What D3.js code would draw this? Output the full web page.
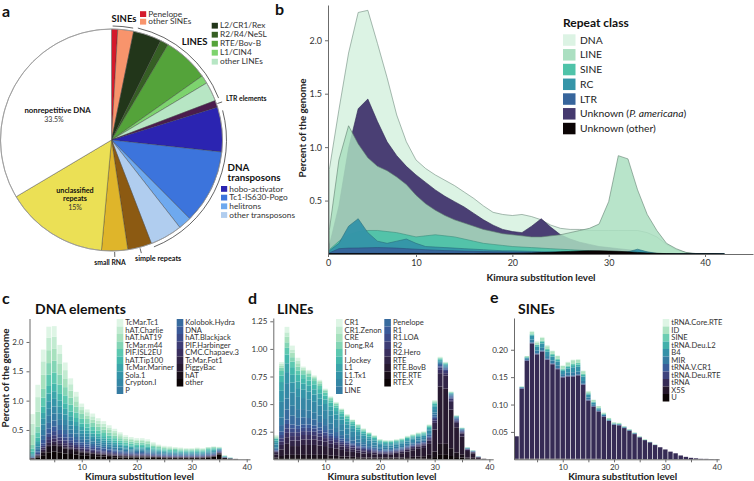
<!DOCTYPE html>
<html lang="en">
<head>
<meta charset="UTF-8">
<title>Repeat landscape of the genome</title>
<script src="https://d3js.org/d3.v7.min.js"></script>
<style>
  body { margin: 0; background: white; }
  svg { display: block; font-family: Lato, "Open Sans", sans-serif; }
  .axis path, .axis line { stroke: #6b6b6b; stroke-width: 1; }
  .axis text { fill: #333; font-size: 8px; font-family: Lato, sans-serif; }
  .bAxis text { font-size: 9px; }
  .panel-letter { font-size: 16px; font-weight: 700; fill: #111; }
  .panel-title { font-size: 14px; font-weight: 700; fill: #111; }
  .axis-title { font-size: 9.8px; font-weight: 700; fill: #222; }
  .leg text { font-size: 7.6px; fill: #333; }
  .pie-label { font-weight: 700; fill: #111; }
  .pie-leg { fill: #333; }
</style>
</head>
<body>
<svg id="fig" width="754" height="481"></svg>
<script>
// ---------------- panel a: genome composition (percent)
var pieNames = ["Penelope", "other SINEs", "L2/CR1/Rex", "R2/R4/NeSL", "RTE/Bov-B", "L1/CIN4",
  "other LINEs", "LTR elements", "hobo-activator", "Tc1-IS630-Pogo", "helitrons",
  "other transposons", "simple repeats", "small RNA", "unclassified repeats", "nonrepetitive DNA"];
var piePercent = [0.9, 2.3, 4.1, 1.2, 6.7, 1.2, 2.8, 1.0, 6.5, 10.8, 1.9, 4.7, 3.5, 3.8, 15, 33.5];

// ---------------- panel b: repeat landscape per class
var kimuraBins = [1,2,3,4,5,6,7,8,9,10,11,12,13,14,15,16,17,18,19,20,21,22,23,24,25,26,27,28,29,30,31,32,33,34,35,36,37,38,39,40,41,42];
var repeatClasses = ["DNA", "LINE", "SINE", "RC", "LTR", "Unknown (P. americana)", "Unknown (other)"];
var dnaLevel = [0.79,1.35,1.88,2.26,2.28,1.97,1.65,1.3,1.05,0.88,0.8,0.74,0.69,0.64,0.58,0.52,0.45,0.39,0.37,0.36,0.37,0.35,0.32,0.27,0.24,0.23,0.23,0.22,0.22,0.22,0.22,0.22,0.22,0.2,0.16,0.09,0.04,0.015,0.005,0.002,0,0];
var lineLevel = [0.22,0.88,1.2,1.03,0.9,0.82,0.78,0.72,0.65,0.55,0.47,0.41,0.36,0.32,0.29,0.26,0.23,0.21,0.19,0.18,0.17,0.16,0.16,0.17,0.18,0.2,0.22,0.24,0.28,0.49,0.92,0.89,0.6,0.37,0.22,0.1,0.05,0.015,0,0,0,0];
var sineLevel = [0.04,0.12,0.18,0.21,0.22,0.22,0.21,0.2,0.18,0.16,0.17,0.18,0.17,0.16,0.14,0.12,0.1,0.09,0.08,0.07,0.065,0.06,0.055,0.05,0.045,0.04,0.035,0.03,0.025,0.02,0.015,0.012,0.008,0.005,0.003,0.002,0.001,0,0,0,0,0];
var rcLevel = [0.03,0.1,0.26,0.33,0.2,0.12,0.1,0.12,0.14,0.1,0.07,0.065,0.06,0.055,0.05,0.045,0.04,0.035,0.03,0.03,0.028,0.025,0.022,0.02,0.02,0.018,0.016,0.015,0.013,0.012,0.012,0.02,0.045,0.02,0.005,0,0,0,0,0,0,0];
var ltrLevel = [0.01,0.05,0.055,0.056,0.058,0.06,0.058,0.055,0.05,0.045,0.04,0.036,0.032,0.03,0.027,0.025,0.023,0.021,0.02,0.019,0.018,0.017,0.016,0.015,0.014,0.013,0.012,0.011,0.01,0.009,0.008,0.007,0.006,0.004,0.002,0,0,0,0,0,0,0];
var unknownPamLevel = [0.08,0.45,0.99,1.36,1.45,1.24,1.05,0.92,0.82,0.74,0.67,0.6,0.54,0.49,0.44,0.38,0.32,0.27,0.23,0.21,0.2,0.26,0.33,0.25,0.18,0.14,0.11,0.09,0.07,0.06,0.05,0.04,0.03,0.02,0.01,0,0,0,0,0,0,0];
var unknownOtherLevel = [0.004,0.005,0.005,0.005,0.005,0.005,0.005,0.005,0.005,0.005,0.005,0.005,0.005,0.005,0.005,0.005,0.006,0.006,0.006,0.007,0.008,0.01,0.013,0.016,0.02,0.024,0.028,0.03,0.03,0.028,0.025,0.02,0.015,0.01,0.006,0.004,0.003,0.003,0.002,0.002,0.002,0];
var bTicksY = [0.5, 1, 1.5, 2];
var bTicksX = [0, 10, 20, 30, 40];

// ---------------- panel c: DNA element families (legend order, top of stack first)
var dnaFamilies = ["TcMar.Tc1","hAT.Charlie","hAT.hAT19","TcMar.m44","PIF.ISL2EU","hAT.Tip100","TcMar.Mariner","Sola.1","Crypton.I","P",
  "Kolobok.Hydra","DNA","hAT.Blackjack","PIF.Harbinger","CMC.Chapaev.3","TcMar.Fot1","PiggyBac","hAT","other"];
var dnaFamilyLevels = [
  [0.165,0.21,0.2,0.19,0.18,0.155,0.13,0.1,0.076,0.051,0.047,0.048,0.044,0.045,0.038,0.035,0.031,0.026,0.024,0.022,0.022,0.021,0.017,0.012,0.012,0.012,0.01,0.009,0.007,0.007,0.008,0.007,0.003,0.005,0.005,0.002,0.001,0],
  [0.18,0.25,0.23,0.21,0.2,0.17,0.14,0.11,0.085,0.06,0.055,0.053,0.048,0.048,0.042,0.038,0.034,0.029,0.027,0.025,0.025,0.024,0.019,0.014,0.013,0.013,0.012,0.011,0.008,0.008,0.01,0.008,0.004,0.005,0.005,0.002,0.001,0],
  [0.18,0.25,0.24,0.22,0.21,0.18,0.15,0.12,0.09,0.065,0.06,0.058,0.053,0.052,0.045,0.042,0.036,0.031,0.029,0.027,0.027,0.025,0.021,0.015,0.015,0.015,0.012,0.012,0.008,0.008,0.01,0.008,0.005,0.005,0.005,0.002,0.001,0],
  [0.06,0.1,0.15,0.2,0.2,0.17,0.14,0.12,0.1,0.085,0.076,0.069,0.062,0.057,0.051,0.045,0.04,0.036,0.033,0.031,0.031,0.029,0.025,0.022,0.02,0.019,0.018,0.018,0.017,0.017,0.018,0.017,0.019,0.017,0.006,0.004,0.002,0],
  [0.05,0.09,0.15,0.19,0.19,0.16,0.135,0.115,0.095,0.08,0.072,0.065,0.058,0.053,0.047,0.042,0.037,0.033,0.03,0.029,0.029,0.027,0.023,0.02,0.019,0.018,0.017,0.016,0.016,0.016,0.017,0.016,0.018,0.017,0.006,0.004,0.002,0],
  [0.03,0.06,0.11,0.13,0.13,0.11,0.095,0.08,0.068,0.058,0.052,0.047,0.042,0.038,0.034,0.03,0.027,0.024,0.022,0.021,0.021,0.02,0.017,0.015,0.014,0.013,0.013,0.012,0.012,0.012,0.013,0.012,0.015,0.015,0.005,0.003,0.001,0],
  [0.02,0.05,0.1,0.13,0.13,0.11,0.095,0.08,0.068,0.058,0.052,0.047,0.042,0.038,0.034,0.03,0.027,0.024,0.022,0.021,0.021,0.02,0.017,0.015,0.014,0.013,0.013,0.012,0.012,0.012,0.013,0.012,0.015,0.015,0.005,0.003,0.001,0],
  [0.02,0.04,0.1,0.13,0.13,0.11,0.095,0.08,0.068,0.058,0.052,0.047,0.042,0.038,0.034,0.03,0.027,0.024,0.022,0.021,0.021,0.02,0.017,0.015,0.014,0.013,0.013,0.012,0.012,0.012,0.013,0.012,0.015,0.015,0.005,0.003,0.001,0],
  [0.01,0.03,0.09,0.12,0.12,0.1,0.085,0.07,0.06,0.052,0.046,0.042,0.037,0.034,0.031,0.028,0.025,0.022,0.02,0.019,0.019,0.018,0.016,0.014,0.013,0.012,0.012,0.011,0.011,0.011,0.011,0.011,0.012,0.012,0.01,0.003,0.001,0],
  [0.01,0.03,0.09,0.12,0.12,0.1,0.085,0.07,0.06,0.052,0.046,0.042,0.037,0.034,0.031,0.028,0.025,0.022,0.02,0.019,0.019,0.018,0.016,0.014,0.013,0.012,0.012,0.011,0.011,0.011,0.011,0.011,0.012,0.012,0.01,0.003,0.001,0],
  [0.01,0.03,0.08,0.1,0.1,0.085,0.07,0.06,0.05,0.045,0.04,0.036,0.032,0.03,0.027,0.024,0.021,0.019,0.018,0.017,0.017,0.016,0.014,0.012,0.011,0.011,0.01,0.01,0.01,0.01,0.01,0.01,0.011,0.011,0.01,0.002,0.001,0],
  [0.005,0.02,0.06,0.08,0.08,0.07,0.06,0.05,0.045,0.04,0.035,0.032,0.029,0.026,0.024,0.021,0.019,0.017,0.016,0.015,0.015,0.014,0.012,0.011,0.01,0.01,0.009,0.009,0.009,0.009,0.009,0.009,0.01,0.01,0.01,0.002,0.001,0],
  [0.005,0.02,0.04,0.06,0.07,0.06,0.05,0.045,0.04,0.034,0.03,0.027,0.024,0.022,0.02,0.018,0.016,0.014,0.013,0.012,0.012,0.011,0.01,0.009,0.008,0.008,0.008,0.007,0.007,0.007,0.007,0.007,0.008,0.008,0.008,0.002,0.001,0],
  [0.005,0.01,0.03,0.05,0.06,0.05,0.045,0.04,0.035,0.03,0.027,0.024,0.022,0.02,0.018,0.016,0.014,0.013,0.012,0.011,0.011,0.01,0.009,0.008,0.007,0.007,0.007,0.006,0.006,0.006,0.006,0.006,0.007,0.007,0.007,0.002,0.001,0],
  [0,0.01,0.03,0.05,0.05,0.045,0.04,0.035,0.03,0.026,0.023,0.02,0.018,0.017,0.015,0.014,0.012,0.011,0.01,0.01,0.01,0.009,0.008,0.007,0.007,0.006,0.006,0.006,0.006,0.006,0.006,0.006,0.007,0.007,0.007,0.002,0.001,0],
  [0,0.01,0.03,0.04,0.04,0.035,0.03,0.025,0.022,0.02,0.018,0.016,0.014,0.013,0.012,0.011,0.01,0.009,0.008,0.008,0.008,0.007,0.006,0.006,0.005,0.005,0.005,0.005,0.005,0.005,0.005,0.005,0.006,0.006,0.006,0.002,0.001,0],
  [0,0.01,0.02,0.03,0.03,0.03,0.025,0.02,0.018,0.016,0.014,0.012,0.011,0.01,0.009,0.008,0.007,0.006,0.006,0.005,0.005,0.005,0.004,0.004,0.004,0.003,0.003,0.003,0.003,0.003,0.003,0.003,0.003,0.003,0.003,0.001,0,0],
  [0.01,0.02,0.05,0.09,0.1,0.09,0.08,0.07,0.06,0.05,0.045,0.04,0.035,0.03,0.028,0.025,0.022,0.02,0.018,0.017,0.017,0.016,0.014,0.012,0.011,0.01,0.01,0.01,0.01,0.01,0.01,0.01,0.01,0.01,0.02,0.005,0.003,0.002],
  [0.01,0.03,0.07,0.12,0.13,0.12,0.1,0.09,0.08,0.07,0.06,0.055,0.05,0.045,0.04,0.035,0.03,0.03,0.03,0.03,0.03,0.03,0.025,0.025,0.02,0.02,0.02,0.02,0.02,0.02,0.02,0.02,0.03,0.04,0.08,0.02,0.01,0.005]
];

// ---------------- panel d: LINE families
var lineFamilies = ["CR1","CR1.Zenon","CRE","Dong.R4","I","I.Jockey","L1","L1.Tx1","L2","LINE",
  "Penelope","R1","R1.LOA","R2","R2.Hero","RTE","RTE.BovB","RTE.RTE","RTE.X"];
var lineFamilyLevels = [
  [0.007,0.015,0.05,0.035,0.025,0.013,0.011,0.008,0.01,0.005,0.005,0.005,0.003,0.004,0.002,0.003,0.003,0.002,0.002,0.002,0.002,0.002,0.002,0.002,0.003,0.003,0.003,0.003,0.003,0.005,0.004,0.003,0.002,0.002,0.001,0.001],
  [0.008,0.015,0.04,0.03,0.025,0.012,0.011,0.008,0.01,0.005,0.005,0.005,0.003,0.004,0.002,0.004,0.003,0.003,0.003,0.002,0.002,0.002,0.002,0.002,0.003,0.003,0.003,0.003,0.003,0.005,0.004,0.003,0.002,0.002,0.001,0.001],
  [0.01,0.02,0.05,0.04,0.03,0.015,0.013,0.009,0.012,0.006,0.006,0.006,0.004,0.005,0.003,0.004,0.004,0.003,0.003,0.002,0.002,0.002,0.002,0.002,0.003,0.003,0.003,0.003,0.003,0.005,0.004,0.003,0.002,0.002,0.001,0.001],
  [0.005,0.03,0.05,0.04,0.035,0.03,0.028,0.026,0.024,0.021,0.019,0.017,0.015,0.013,0.012,0.01,0.009,0.008,0.007,0.006,0.005,0.005,0.005,0.005,0.005,0.005,0.005,0.005,0.006,0.008,0.005,0.004,0.003,0.002,0.001,0.001,0.001],
  [0.005,0.04,0.06,0.05,0.04,0.035,0.033,0.03,0.028,0.025,0.022,0.02,0.018,0.016,0.014,0.012,0.01,0.009,0.008,0.007,0.006,0.006,0.006,0.006,0.006,0.006,0.006,0.006,0.007,0.01,0.006,0.005,0.003,0.002,0.002,0.001,0.001],
  [0.015,0.06,0.08,0.07,0.06,0.05,0.048,0.045,0.042,0.037,0.033,0.03,0.027,0.024,0.021,0.018,0.016,0.014,0.012,0.009,0.009,0.009,0.009,0.009,0.009,0.009,0.009,0.009,0.01,0.014,0.006,0.005,0.003,0.002,0.002,0.001,0.001],
  [0.015,0.08,0.08,0.07,0.06,0.055,0.052,0.048,0.045,0.04,0.036,0.033,0.03,0.027,0.024,0.021,0.018,0.015,0.013,0.01,0.01,0.01,0.01,0.01,0.01,0.01,0.01,0.01,0.011,0.015,0.008,0.006,0.004,0.003,0.002,0.001,0.001],
  [0.02,0.1,0.1,0.09,0.08,0.075,0.07,0.065,0.062,0.056,0.05,0.046,0.041,0.037,0.033,0.029,0.025,0.021,0.018,0.015,0.014,0.013,0.013,0.013,0.013,0.013,0.013,0.013,0.014,0.02,0.008,0.006,0.004,0.003,0.002,0.002,0.001,0.001],
  [0.03,0.14,0.14,0.12,0.11,0.1,0.1,0.095,0.09,0.08,0.072,0.066,0.06,0.053,0.047,0.041,0.036,0.031,0.027,0.02,0.019,0.019,0.019,0.02,0.02,0.02,0.02,0.02,0.022,0.03,0.01,0.008,0.005,0.004,0.003,0.002,0.001,0.001],
  [0.01,0.07,0.1,0.09,0.08,0.075,0.07,0.065,0.06,0.055,0.05,0.045,0.04,0.035,0.031,0.027,0.023,0.02,0.017,0.015,0.014,0.013,0.013,0.013,0.013,0.013,0.013,0.013,0.015,0.02,0.01,0.008,0.008,0.006,0.005,0.002,0.002,0.001],
  [0.01,0.06,0.09,0.08,0.07,0.065,0.06,0.055,0.05,0.045,0.04,0.036,0.032,0.028,0.025,0.022,0.019,0.016,0.014,0.012,0.011,0.011,0.011,0.011,0.012,0.012,0.012,0.012,0.014,0.02,0.01,0.008,0.008,0.006,0.005,0.002,0.002,0.001],
  [0.005,0.03,0.04,0.035,0.03,0.03,0.03,0.028,0.026,0.023,0.02,0.018,0.016,0.014,0.012,0.011,0.01,0.009,0.008,0.007,0.006,0.006,0.006,0.006,0.006,0.006,0.006,0.006,0.008,0.01,0.012,0.012,0.01,0.008,0.006,0.002,0.002],
  [0.005,0.03,0.04,0.035,0.03,0.03,0.03,0.028,0.026,0.023,0.02,0.018,0.016,0.014,0.012,0.011,0.01,0.009,0.008,0.007,0.006,0.006,0.006,0.006,0.006,0.006,0.006,0.006,0.008,0.01,0.012,0.012,0.01,0.008,0.006,0.002,0.002],
  [0.005,0.03,0.04,0.035,0.035,0.035,0.034,0.032,0.03,0.027,0.024,0.021,0.019,0.017,0.015,0.013,0.011,0.01,0.009,0.008,0.007,0.007,0.007,0.007,0.008,0.008,0.008,0.008,0.01,0.015,0.02,0.02,0.015,0.01,0.007,0.003,0.002,0.001],
  [0.005,0.03,0.04,0.04,0.04,0.04,0.04,0.038,0.035,0.03,0.027,0.024,0.021,0.018,0.016,0.014,0.012,0.01,0.009,0.008,0.008,0.008,0.008,0.008,0.009,0.01,0.01,0.01,0.012,0.02,0.03,0.02,0.015,0.01,0.008,0.003,0.002,0.001],
  [0.02,0.04,0.06,0.05,0.05,0.05,0.05,0.05,0.045,0.042,0.038,0.034,0.03,0.027,0.024,0.021,0.019,0.017,0.015,0.014,0.013,0.013,0.014,0.015,0.017,0.019,0.021,0.023,0.03,0.06,0.12,0.12,0.07,0.04,0.03,0.01,0.008,0.003],
  [0.03,0.06,0.1,0.08,0.08,0.09,0.09,0.09,0.085,0.08,0.07,0.065,0.058,0.05,0.045,0.04,0.035,0.032,0.03,0.024,0.024,0.026,0.032,0.038,0.05,0.06,0.07,0.075,0.1,0.2,0.52,0.5,0.35,0.23,0.16,0.06,0.04,0.012,0.001],
  [0.01,0.02,0.03,0.03,0.03,0.03,0.03,0.03,0.03,0.03,0.025,0.023,0.02,0.018,0.016,0.014,0.012,0.011,0.01,0.01,0.01,0.01,0.011,0.012,0.014,0.016,0.018,0.02,0.03,0.05,0.1,0.1,0.07,0.04,0.03,0.01,0.01,0.003,0.003],
  [0.005,0.01,0.01,0.01,0.01,0.01,0.01,0.01,0.01,0.01,0.008,0.008,0.007,0.006,0.006,0.005,0.005,0.005,0.005,0.005,0.005,0.005,0.005,0.005,0.006,0.006,0.007,0.008,0.01,0.02,0.04,0.04,0.03,0.02,0.015,0.005,0.004,0.001,0.001]
];

// ---------------- panel e: SINE families
var sineFamilies = ["tRNA.Core.RTE","ID","SINE","tRNA.Deu.L2","B4","MIR","tRNA.V.CR1","tRNA.Deu.RTE","tRNA","X5S","U"];
var sineFamilyLevels = [
  [0,0,0,0.002,0.002,0.002,0.002,0.001,0.001,0.001,0.001,0.001,0.001,0.001,0.001,0.0005],
  [0,0.001,0.002,0.004,0.004,0.005,0.005,0.005,0.005,0.005,0.006,0.006,0.006,0.005,0.003,0.003,0.003,0.002,0.002,0.002,0.002,0.001,0.001,0.001,0.001,0.001,0.0005,0.0005],
  [0,0,0,0.001,0.001,0.002,0.002,0.002,0.002,0.002,0.002,0.003,0.003,0.002,0.001,0.001,0.0005,0.0005,0.0005],
  [0,0,0.001,0.002,0.003,0.003,0.003,0.003,0.003,0.002,0.003,0.004,0.004,0.003,0.002,0.001,0.001,0.0005,0.0005],
  [0,0.001,0.002,0.007,0.007,0.008,0.008,0.007,0.007,0.006,0.008,0.009,0.009,0.008,0.005,0.003,0.002,0.001,0.001,0.001,0.001,0.001,0.0005,0.0005],
  [0,0.001,0.002,0.005,0.005,0.005,0.005,0.005,0.005,0.004,0.005,0.006,0.005,0.005,0.004,0.003,0.002,0.002,0.001,0.001,0.001,0.001,0.001,0.001,0.0005,0.0005,0.0005,0.0005],
  [0,0.0005,0.001,0.001,0.001,0.001,0.001,0.001,0.001,0.001,0.001,0.001,0.001,0.001,0.001,0.0005,0.0005,0.0005],
  [0,0.001,0.001,0.001,0.001,0.001,0.001,0.001,0.001,0.001,0.001,0.001,0.001,0.001,0.001,0.001,0.001,0.001,0.0005,0.0005,0.0005,0.0005,0.0005,0.0005,0.0005],
  [0.041,0.127,0.178,0.21,0.19,0.195,0.18,0.172,0.163,0.148,0.15,0.15,0.152,0.135,0.106,0.095,0.086,0.077,0.07,0.063,0.062,0.057,0.052,0.046,0.04,0.035,0.031,0.026,0.022,0.018,0.014,0.011,0.007,0.0045,0.0027,0.0018,0.0009,0.0008,0.0005,0.0003],
  [0.0005,0.001,0.001,0.001,0.001,0.001,0.001,0.001,0.001,0.001,0.001,0.001,0.001,0.001,0.001,0.001,0.001,0.0005],
  [0.0005,0.0005,0.0005,0.0005,0.0005,0.0005,0.0005,0.0005,0.0005,0.0005]
];

// ---------------- colours
var pieColors = ["#d41a2b","#f8946c","#22361a","#365f24","#54a33a","#7dd36e","#b7e6c4","#4b1c4d",
  "#2b24b1","#3c74dc","#6ea9ef","#b0cdef","#8c5a12","#dfb52a","#ebe055","#ffffff"];
var mako = d3.piecewise(d3.interpolateRgb, ["#0b0405","#2b1c35","#3e356b","#3b5698","#357ba2","#3497a9","#49c1ad","#a0dfb9","#def5e5"]);
var classColor = {
  "DNA": "#dcf3e4", "LINE": "#abdfc1", "SINE": "#4fc3a9", "RC": "#3595a8",
  "LTR": "#37659c", "Unknown (P. americana)": "#45396f", "Unknown (other)": "#0b0405"
};

var svg = d3.select("#fig");

// panel letters
[["a", 2, 17], ["b", 275, 15], ["c", 2, 304], ["d", 248, 304], ["e", 490, 303]].forEach(function (p) {
  svg.append("text").attr("class", "panel-letter").attr("x", p[1]).attr("y", p[2]).text(p[0]);
});

// ================= a: pie
var cx = 111.5, cy = 140, pieR = 111;
var pieG = svg.append("g").attr("transform", "translate(" + cx + "," + cy + ")");
var pieArcs = d3.pie().sort(null).value(function (d) { return d; })(piePercent);
var arc = d3.arc().innerRadius(0).outerRadius(pieR);

pieG.selectAll("path.slice")
  .data(pieArcs)
  .enter().append("path")
  .attr("class", "slice")
  .attr("d", arc)
  .attr("fill", function (d, i) { return pieColors[i]; })
  .attr("stroke", "#3a3a3a")
  .attr("stroke-width", 0.4);

pieG.append("circle").attr("r", pieR).attr("fill", "none")
  .attr("stroke", "#9a9a9a").attr("stroke-width", 0.8);

// brackets around slice groups
function bracket(a0, a1, r) {
  var p = d3.path();
  p.arc(0, 0, r, a0 - Math.PI / 2, a1 - Math.PI / 2);
  pieG.append("path").attr("d", p.toString()).attr("fill", "none")
    .attr("stroke", "#222").attr("stroke-width", 0.7);
}
bracket(pieArcs[0].startAngle + 0.01, pieArcs[1].endAngle - 0.01, pieR + 3);
bracket(pieArcs[2].startAngle + 0.03, pieArcs[6].endAngle - 0.01, pieR + 4);
bracket(pieArcs[8].startAngle + 0.04, pieArcs[11].endAngle - 0.01, pieR + 4);

function radialTick(i) {
  var a = (pieArcs[i].startAngle + pieArcs[i].endAngle) / 2;
  pieG.append("line")
    .attr("x1", Math.sin(a) * (pieR + 1)).attr("y1", -Math.cos(a) * (pieR + 1))
    .attr("x2", Math.sin(a) * (pieR + 6)).attr("y2", -Math.cos(a) * (pieR + 6))
    .attr("stroke", "#222").attr("stroke-width", 0.7);
}
radialTick(7); radialTick(12); radialTick(13);

function pieText(txt, x, y, size, anchor, bold) {
  return svg.append("text").attr("x", x).attr("y", y)
    .attr("class", bold ? "pie-label" : "pie-leg")
    .attr("font-size", size).attr("text-anchor", anchor || "start").text(txt);
}
function pieLegend(idx, x, y0, step) {
  idx.forEach(function (k, j) {
    svg.append("rect").attr("x", x).attr("y", y0 + j * step).attr("width", 6.2).attr("height", 5.8)
      .attr("fill", pieColors[k]);
    pieText(pieNames[k], x + 8.3, y0 + j * step + 5.6, 8.3, "start", false);
  });
}
pieText("SINEs", 136.5, 21.5, 9.5, "end", true);
pieLegend([0, 1], 140, 11.2, 7.6);
pieText("LINES", 207.5, 45, 9.5, "end", true);
pieLegend([2, 3, 4, 5, 6], 211.7, 22.8, 9);
pieText("LTR elements", 226, 100.5, 6.8, "start", true);
pieText("DNA", 227.5, 170.5, 9.8, "start", true);
pieText("transposons", 227.5, 181, 9.8, "start", true);
pieLegend([8, 9, 10, 11], 221, 186, 8.7);
pieText("nonrepetitive DNA", 57.5, 112.5, 7.8, "middle", true);
pieText(piePercent[15] + "%", 54, 121.5, 7, "middle", false).attr("fill", "#222");
pieText("unclassified", 75, 193.3, 7.2, "middle", true);
pieText("repeats", 75, 201.2, 7.2, "middle", true);
pieText(piePercent[14] + "%", 75, 209.5, 7, "middle", false).attr("fill", "#222");
pieText("small RNA", 110, 264.5, 6.8, "middle", true);
pieText("simple repeats", 135, 260.5, 7.2, "start", true);

// ================= b: repeat landscape (overlaid areas)
var xb = d3.scaleLinear().domain([0.865, 44.98]).range([328, 753]);
var yb = d3.scaleLinear().domain([0, 2.33]).range([254, 5]);
var bG = svg.append("g");

var drawOrder = [
  { name: "DNA", values: dnaLevel, opacity: 1, stroke: "#6f8c7e" },
  { name: "Unknown (P. americana)", values: unknownPamLevel, opacity: 0.97, stroke: "#2c2450" },
  { name: "LINE", values: lineLevel, opacity: 0.85, stroke: "#5f806f" },
  { name: "SINE", values: sineLevel, opacity: 0.95, stroke: "#3d8f7d" },
  { name: "RC", values: rcLevel, opacity: 0.97, stroke: "#2a6e7c" },
  { name: "LTR", values: ltrLevel, opacity: 1, stroke: "#284d78" },
  { name: "Unknown (other)", values: unknownOtherLevel, opacity: 1, stroke: "#000" }
];
var area = d3.area()
  .x(function (d, i) { return xb(kimuraBins[i]); })
  .y0(yb(0))
  .y1(function (d) { return yb(d); });

bG.selectAll("path.cls")
  .data(drawOrder)
  .enter().append("path")
  .attr("class", "cls")
  .attr("d", function (s) { return area(s.values); })
  .attr("fill", function (s) { return classColor[s.name]; })
  .attr("fill-opacity", function (s) { return s.opacity; })
  .attr("stroke", function (s) { return s.stroke; })
  .attr("stroke-width", 0.6);

bG.append("g").attr("class", "axis bAxis").attr("transform", "translate(0,254)")
  .call(d3.axisBottom(xb)
    .tickValues(bTicksX.map(function (t) { return t === 0 ? xb.domain()[0] : t; }))
    .tickFormat(function (d) { return d < 1 ? "0" : d; })
    .tickSize(3).tickSizeOuter(0));
bG.append("g").attr("class", "axis bAxis").attr("transform", "translate(328,0)")
  .call(d3.axisLeft(yb).tickValues(bTicksY).tickFormat(d3.format(".1f")).tickSize(3).tickSizeOuter(0));

bG.append("text").attr("class", "axis-title").attr("font-size", 12)
  .attr("x", 541).attr("y", 281).attr("text-anchor", "middle").text("Kimura substitution level");
bG.append("text").attr("class", "axis-title").attr("font-size", 12)
  .attr("transform", "translate(306,128) rotate(-90)").attr("text-anchor", "middle").text("Percent of the genome");

// legend
var bLeg = bG.append("g");
bLeg.append("text").attr("x", 563).attr("y", 27).attr("font-size", 12).attr("font-weight", 700)
  .attr("fill", "#111").text("Repeat class");
repeatClasses.forEach(function (c, j) {
  var y0 = 34.3 + j * 14.75;
  bLeg.append("rect").attr("x", 563).attr("y", y0).attr("width", 12.5).attr("height", 11.5)
    .attr("fill", classColor[c]);
  var t = bLeg.append("text").attr("x", 580).attr("y", y0 + 9.3).attr("font-size", 10.3).attr("fill", "#222");
  var m = c.match(/^(Unknown \()(P\. americana)(\))$/);
  if (m) {
    t.append("tspan").text(m[1]);
    t.append("tspan").attr("font-style", "italic").text(m[2]);
    t.append("tspan").text(m[3]);
  } else {
    t.text(c);
  }
});

// ================= c, d, e: stacked family bars
function stackPanel(cfg) {
  var g = svg.append("g");
  var n = cfg.names.length;
  var keys = cfg.names.slice().reverse();          // bottom of stack first
  var rows = kimuraBins.slice(0, cfg.bins).map(function (k, i) {
    var r = { bin: k };
    cfg.names.forEach(function (nm, j) { r[nm] = cfg.levels[j][i] || 0; });
    return r;
  });
  var color = function (nm) { return mako(1 - cfg.names.indexOf(nm) / (n - 1)); };
  var series = d3.stack().keys(keys)(rows);
  var bw = cfg.x(2) - cfg.x(1);

  g.selectAll("g.s")
    .data(series)
    .enter().append("g")
    .attr("fill", function (s) { return color(s.key); })
    .selectAll("rect")
    .data(function (s) { return s; })
    .enter().append("rect")
    .attr("x", function (d) { return cfg.x(d.data.bin) - bw / 2 + 0.35; })
    .attr("width", bw - 0.7)
    .attr("y", function (d) { return cfg.y(d[1]); })
    .attr("height", function (d) { return Math.max(0, cfg.y(d[0]) - cfg.y(d[1])); });

  var y0 = cfg.y.range()[0];
  g.append("g").attr("class", "axis").attr("transform", "translate(0," + y0 + ")")
    .call(d3.axisBottom(cfg.x).tickValues([5, 10, 15, 20, 25, 30, 35, 40])
      .tickFormat(function (d) { return d % 10 === 0 ? d : ""; })
      .tickSize(3).tickPadding(2).tickSizeOuter(0));
  g.append("g").attr("class", "axis").attr("transform", "translate(" + cfg.x.range()[0] + ",0)")
    .call(d3.axisLeft(cfg.y).tickValues(cfg.yTicks).tickFormat(d3.format(cfg.yFormat))
      .tickSize(3).tickSizeOuter(0));

  g.append("text").attr("class", "panel-title").attr("x", cfg.titleX).attr("y", 314).text(cfg.title);
  g.append("text").attr("class", "axis-title").attr("x", cfg.labelX).attr("y", 480.3)
    .attr("text-anchor", "middle").text("Kimura substitution level");
  if (cfg.yLabel) {
    g.append("text").attr("class", "axis-title")
      .attr("transform", "translate(" + cfg.yLabel[0] + "," + cfg.yLabel[1] + ") rotate(-90)")
      .attr("text-anchor", "middle").text("Percent of the genome");
  }

  // legend columns
  var leg = g.append("g").attr("class", "leg");
  cfg.names.forEach(function (nm, j) {
    var col = j < cfg.perCol ? 0 : 1;
    var row = col === 0 ? j : j - cfg.perCol;
    var lx = cfg.legX[col], ly = 319 + row * 7.5;
    leg.append("rect").attr("x", lx).attr("y", ly).attr("width", 6.6).attr("height", 7.5)
      .attr("fill", color(nm));
    leg.append("text").attr("x", lx + 8.6).attr("y", ly + 6.2).text(nm);
  });
  return g;
}

stackPanel({
  names: dnaFamilies, levels: dnaFamilyLevels, bins: 38,
  x: d3.scaleLinear().domain([0.5, 40.6]).range([29.5, 250]),
  y: d3.scaleLinear().domain([0, 2.4]).range([459.3, 318.5]),
  yTicks: [0.5, 1, 1.5, 2], yFormat: ".1f",
  title: "DNA elements", titleX: 35, labelX: 139.5, yLabel: [9, 378],
  legX: [116.7, 176.7], perCol: 10
});
stackPanel({
  names: lineFamilies, levels: lineFamilyLevels, bins: 40,
  x: d3.scaleLinear().domain([0.5, 40.7]).range([273.3, 493.2]),
  y: d3.scaleLinear().domain([0, 1.28]).range([459.3, 318]),
  yTicks: [0.25, 0.5, 0.75, 1, 1.25], yFormat: ".2f",
  title: "LINEs", titleX: 277, labelX: 382,
  legX: [336, 384.3], perCol: 10
});
stackPanel({
  names: sineFamilies, levels: sineFamilyLevels, bins: 40,
  x: d3.scaleLinear().domain([0.5, 40.5]).range([514, 719.2]),
  y: d3.scaleLinear().domain([0, 0.258]).range([459.3, 318]),
  yTicks: [0.05, 0.1, 0.15, 0.2], yFormat: ".2f",
  title: "SINEs", titleX: 518, labelX: 622.7,
  legX: [662.7, 0], perCol: 11
});
</script>
</body>
</html>
